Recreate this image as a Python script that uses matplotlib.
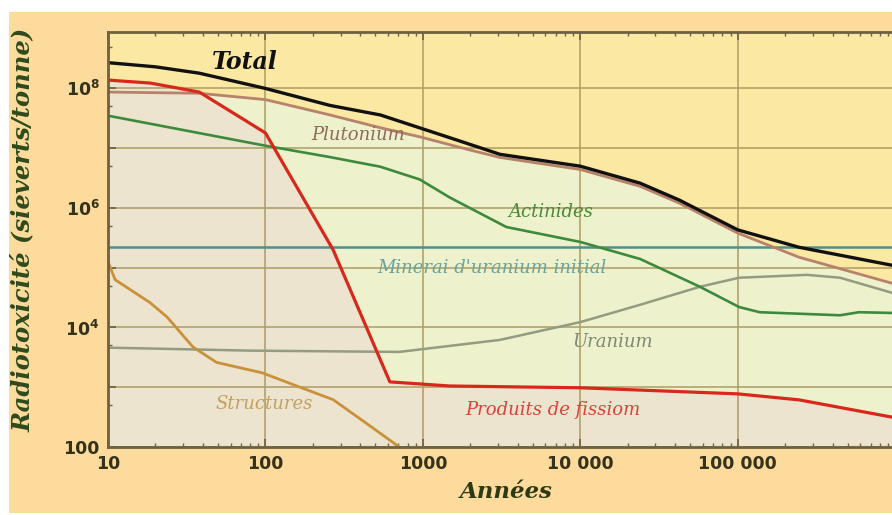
import matplotlib
matplotlib.use('Agg')
import matplotlib.pyplot as plt
from matplotlib.patches import Rectangle
from matplotlib.ticker import LogLocator, NullFormatter

# years / radiotoxicity (Sv per tonne)
total_years = [10, 20, 38, 100, 257, 537, 1480, 3090, 10000, 24000, 42700, 100000, 245000, 955000]
total_vals = [2.7e8, 2.3e8, 1.8e8, 1.0e8, 5.2e7, 3.6e7, 1.5e7, 7.9e6, 5.0e6, 2.6e6, 1.35e6, 4.3e5, 2.2e5, 1.1e5]

pu_years = [10, 38, 100, 257, 537, 955, 2000, 3090, 10000, 24000, 42700, 100000, 245000, 955000]
pu_vals = [8.7e7, 8.3e7, 6.5e7, 3.6e7, 2.2e7, 1.55e7, 9.3e6, 7.0e6, 4.4e6, 2.3e6, 1.2e6, 3.8e5, 1.5e5, 5.5e4]

act_years = [10, 100, 257, 537, 955, 1480, 3390, 10000, 24000, 57500, 102000, 138000, 447000, 589000, 955000]
act_vals = [3.5e7, 1.1e7, 7.1e6, 4.9e6, 3.0e6, 1.5e6, 4.8e5, 2.7e5, 1.4e5, 4.8e4, 2.2e4, 1.8e4, 1.6e4, 1.8e4, 1.75e4]

u_years = [10, 79, 708, 3090, 10000, 24000, 57500, 102000, 275000, 447000, 955000]
u_vals = [4.6e3, 4.1e3, 3.9e3, 6.2e3, 1.23e4, 2.4e4, 4.8e4, 6.8e4, 7.6e4, 6.8e4, 3.8e4]

struct_years = [10, 11.1, 18.5, 23.7, 34.7, 49, 95.5, 166, 269, 437, 708]
struct_vals = [1.26e5, 6.3e4, 2.6e4, 1.5e4, 4.7e3, 2.6e3, 1.74e3, 1.0e3, 620, 250, 100]

fp_years = [10, 18.6, 38, 69, 100, 269, 617, 1480, 10000, 100000, 245000, 955000]
fp_vals = [1.38e8, 1.23e8, 8.7e7, 3.3e7, 1.8e7, 2.0e5, 1.23e3, 1.05e3, 980, 775, 615, 316]

ore_level = 2.2e5

x_ticks = [10, 100, 1000, 10000, 100000]
x_labels = ['10', '100', '1000', '10 000', '100 000']
y_ticks = [1e2, 1e3, 1e4, 1e5, 1e6, 1e7, 1e8]
y_labels = ['100', '', r'$\mathbf{10^4}$', '', r'$\mathbf{10^6}$', '', r'$\mathbf{10^8}$']

fig = plt.figure(figsize=(8.92, 5.15), dpi=100, facecolor='white')
fig.patches.append(Rectangle((9 / 892, 2 / 515), 1, 501 / 515, transform=fig.transFigure,
                             facecolor='#fddb9c', edgecolor='none', zorder=-10))

ax = fig.add_axes([108 / 892, 68 / 515, 784 / 892, 415 / 515])
ax.set_facecolor('#fbe8a2')
ax.set_xscale('log')
ax.set_yscale('log')
ax.set_xlim(10, 9.55e5)
ax.set_ylim(100, 8.8e8)

# shaded zones: light green under plutonium, beige under fission products
ax.fill_between(pu_years, pu_vals, 100, color='#eef2cc', lw=0, zorder=0.6)
ax.fill_between(fp_years, fp_vals, 100, color='#ece4cf', lw=0, zorder=0.7)

ax.axhline(ore_level, color='#4f8f8f', lw=1.8, zorder=2)
ax.plot(u_years, u_vals, color='#939c80', lw=1.8, zorder=2)
ax.plot(struct_years, struct_vals, color='#c8913a', lw=2.0, zorder=2)
ax.plot(act_years, act_vals, color='#3d8a3d', lw=1.9, zorder=2.1)
ax.plot(pu_years, pu_vals, color='#b7826c', lw=2.0, zorder=2.2)
ax.plot(fp_years, fp_vals, color='#d8281c', lw=2.3, zorder=2.3)
ax.plot(total_years, total_vals, color='#111111', lw=2.4, zorder=2.4)

ax.grid(True, which='major', color='#ad9d62', lw=1.1)
ax.set_xticks(x_ticks, x_labels)
ax.set_yticks(y_ticks, y_labels)
ax.xaxis.set_minor_locator(LogLocator(base=10, subs=range(2, 10)))
ax.xaxis.set_minor_formatter(NullFormatter())
ax.yaxis.set_minor_locator(LogLocator(base=10, subs=(5,)))
ax.yaxis.set_minor_formatter(NullFormatter())
ax.tick_params(which='both', direction='in', top=True, color='#6e6040')
ax.tick_params(which='major', length=6, width=1.2, pad=6, labelsize=12.5, labelcolor='#34321a')
ax.tick_params(which='minor', length=3, width=1)
for lbl in ax.get_xticklabels() + ax.get_yticklabels():
    lbl.set_fontweight('bold')

for side in ['left', 'bottom', 'top']:
    ax.spines[side].set_color('#6e6040')
    ax.spines[side].set_linewidth(2)
ax.spines['right'].set_visible(False)

lbl_font = dict(family='DejaVu Serif', style='italic', fontsize=13, ha='center', va='center',
                transform=ax.transAxes, zorder=3)
ax.text(0.175, 0.928, 'Total', color='#111111', fontweight='bold',
        **{**lbl_font, 'fontsize': 17})
ax.text(0.319, 0.752, 'Plutonium', color='#8e6a5e', **lbl_font)
ax.text(0.565, 0.566, 'Actinides', color='#4a8a3a', **lbl_font)
ax.text(0.490, 0.431, "Minerai d'uranium initial", color='#6aa3a0', **lbl_font)
ax.text(0.644, 0.253, 'Uranium', color='#7f8874', **lbl_font)
ax.text(0.199, 0.104, 'Structures', color='#c4a060', **lbl_font)
ax.text(0.568, 0.089, 'Produits de fissiom', color='#e0403a', **lbl_font)

fig.text(23 / 892, 1 - 230 / 515, 'Radiotoxicité (sieverts/tonne)', rotation=90,
         family='DejaVu Serif', style='italic', fontweight='bold', fontsize=17.5,
         color='#2e4a1c', ha='center', va='center')
fig.text(506 / 892, 1 - 492 / 515, 'Années', family='DejaVu Serif', style='italic',
         fontweight='bold', fontsize=16.5, color='#2e3a14', ha='center', va='center')

fig.savefig('out.png', dpi=100, facecolor=fig.get_facecolor())
